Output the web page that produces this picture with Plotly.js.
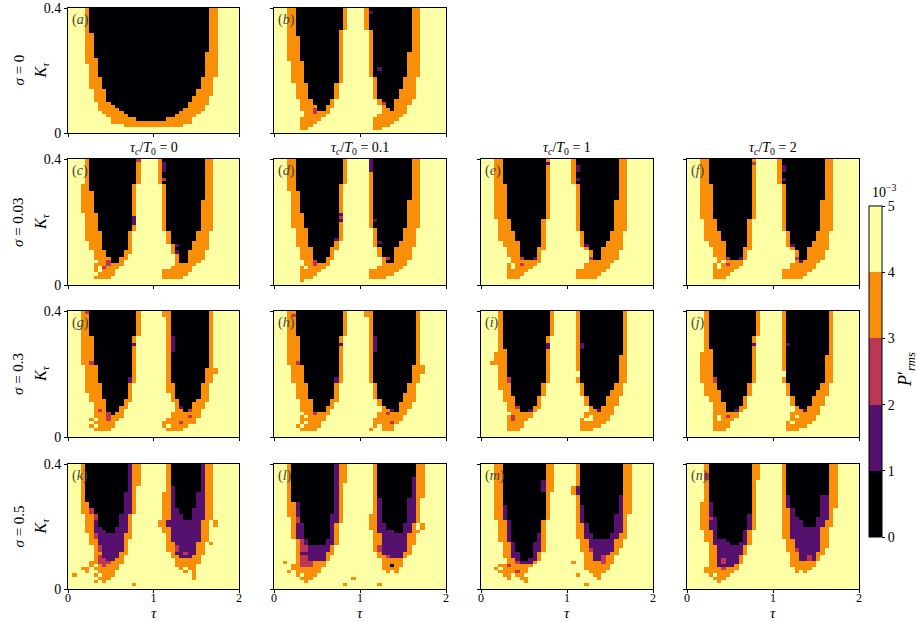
<!DOCTYPE html>
<html>
<head>
<meta charset="utf-8">
<script src="https://cdn.plot.ly/plotly-3.0.1.min.js"></script>
<style>html,body{margin:0;padding:0;background:#fff;}#chart{width:917px;height:622px;}</style>
</head>
<body>
<div id="chart"></div>
<script>
// ---------------- DATA ----------------
// Each panel: 40 rows (row 0 = K_tau 0.4 top, row 39 = 0) x 40 columns (tau 0..2).
// Entry "r0-r1:spec": for rows r0..r1, each token "cL" sets level L from column c onward.
// Levels (P'_rms bins, units 1e-3): K=[0,1) P=[1,2) R=[2,3) O=[3,4) Y=[4,5]
const sigmaLabels = ['0', '0.03', '0.3', '0.5'];
const tauCLabels = ['0', '0.1', '1', '2'];
const panelLetters = ['a','b','c','d','e','f','g','h','i','j','k','l','m','n'];
const colorbarTicks = [0, 1, 2, 3, 4, 5];
const levelColors = ['#000004', '#56106e', '#bb3754', '#f98e09', '#fcffa4'];

const panelA = ["0-7:4O 5K 33O 35Y","8-13:4O 6K 33O 35Y","14-15:4O 6K 32O 35Y","16-17:4O 7K 32O 35Y","18-21:5O 7K 32O 35Y","22-25:5O 8K 31O 34Y","26-27:6O 9K 30O 34Y","28-29:6O 9K 29O 33Y","30:7O 10K 28O 33Y","31:7O 11K 28O 32Y","32:7O 12K 27O 32Y","33:8O 13K 26O 31Y","34:9O 14K 25O 30Y","35:10O 16K 23O 29Y","36:10O 29Y","37:13O 27Y"];

const panelB = ["0-6:3O 5K 16O 17Y","7-8:3O 5K 15O 16Y","9-16:3O 6K 15O 16Y","17-23:4O 7K 15O 16Y","24-28:5O 8K 14O 15Y","29-30:6O 9K 13O 14Y","31:6O 10K 12O 14Y","32:6O 9R 10K 12O 13Y","33:7O 9R 10O 13Y","34:7O 12Y","35:6O 11Y","36:6O 10Y","37:6O 9Y","38:6O 8Y",
"0:21O 22K 32O 34Y","1:21O 22P 23K 32O 34Y","2-6:21O 22K 32O 34Y","7-13:22O 23K 32O 34Y","14-18:22O 23K 31O 34Y","19:22O 23K 24P 25K 31O 34Y","20-21:22O 23K 31O 34Y","22-25:23O 24K 30O 33Y","26-28:23O 24K 29O 33Y","29:24O 25K 28O 32Y","30:24O 25R 26K 28O 32Y","31:25O 26K 28O 31Y","32:25O 27K 28O 31Y","33:25O 31Y","34:24O 30Y","35:23O 29Y","36:23O 28Y","37:23O 27Y","38:23O 25Y"];

const panelC = ["0:4O 5K 16R 17Y","1-7:4O 5K 16O 17Y","8-9:3O 5K 15O 16Y","10-16:3O 6K 15O 16Y","17:4O 7K 15O 16Y","18-20:4O 7K 15P 16Y","21-22:4O 7K 15O 16Y","23-25:4O 8K 14O 15Y","26-28:5O 8K 14O 15Y","29:6O 9K 13O 15Y","30:6O 9K 13O 14Y","31:6O 10K 12O 14Y","32:7O 9R 10K 12O 13Y","33:6O 9R 10O 13Y","34:6O 7Y 8R 9O 12Y","35:6O 7Y 8O 11Y","36:7O 11Y","37:6O 10Y",
"0:21O 22K 32O 34Y","1-3:21O 22P 23K 32O 34Y","4-5:21O 22K 32O 34Y","6:21O 22R 23K 32O 34Y","7:21O 22K 32O 34Y","8-12:22O 23K 32O 34Y","13-22:22O 23K 31O 34Y","23-25:23O 24K 30O 33Y","26:23O 24K 29O 33Y","27:24O 25P 26K 29O 33Y","28:24O 25K 29O 33Y","29:24O 25P 26K 28O 32Y","30-31:25O 26K 28O 32Y","32:25O 26K 28O 31Y","33:25O 30Y","34:24O 29Y","35:22O 29Y","36:22O 28Y","37:22O 27Y"];

const panelD = ["0-7:3O 5K 16O 17Y","8-9:3O 5K 15O 16Y","10-16:4O 6K 15O 16Y","17:4O 7K 15P 16Y","18:4O 7K 15R 16Y","19:4O 7K 15P 16Y","20-21:4O 7K 15O 16Y","22-24:5O 8K 15O 16Y","25:5O 8K 14P 15O 16Y","26-27:5O 8K 14O 15Y","28:6O 9K 13O 15Y","29-30:6O 9K 13O 14Y","31:6O 9K 12O 14Y","32:7O 9R 10K 12O 13Y","33:7O 9R 10O 13Y","34:6O 7Y 8O 12Y","35:6O 11Y","36:6O 10Y","37:6O 9Y","38:6O 7Y",
"0-3:22P 23K 32O 34Y","4-12:22O 23K 32O 34Y","13-18:22O 23K 31O 34Y","19:22O 23P 24K 31O 34Y","20-21:22O 23K 31O 34Y","22-25:23O 24K 30O 33Y","26:23O 24P 25K 29O 33Y","27:23O 24K 29O 33Y","28-30:24O 25K 28O 32Y","31:25O 26R 27K 28O 32Y","32:25O 26K 28O 31Y","33:25O 31Y","34:24O 30Y","35:22O 29Y","36:22O 28Y","37:22O 26Y"];

const panelE = ["0:3O 5K 15O 16Y","1:3O 5K 15P 16Y","2-7:3O 5K 15O 16Y","8-18:3O 6K 15O 16Y","19-22:4O 7K 14O 15Y","23-25:4O 8K 14O 15Y","26-27:5O 9K 14O 15Y","28:6O 9K 13O 15Y","29-30:6O 9K 13O 14Y","31:7O 9R 10K 12P 13O 14Y","32:7O 14Y","33:6O 7Y 8O 9R 10O 13Y","34:6O 7Y 8O 12Y","35:6O 11Y","36:6O 10Y","37:6O 9Y",
"0-1:21O 22K 32O 34Y","2-3:21O 22P 23K 32O 34Y","4-5:21O 22K 32O 34Y","6:21O 22P 23K 32O 34Y","7:21O 22K 32O 34Y","8-12:22O 23K 32O 34Y","13-22:22O 23K 31O 34Y","23-25:23O 24K 30O 33Y","26:23O 24K 29O 33Y","27:23O 24P 25K 29O 33Y","28:24O 25K 28O 33Y","29-30:25O 26K 28O 32Y","31:25R 26K 28O 32Y","32:25O 31Y","33-34:24O 30Y","35:22O 29Y","36:22O 28Y","37:22O 27Y"];

const panelF = ["0:3O 5K 15O 16Y","1:3O 5K 15R 16Y","2-7:3O 5K 15O 16Y","8-18:3O 6K 15O 16Y","19-22:4O 7K 14O 15Y","23-25:4O 8K 14O 15Y","26-27:5O 9K 14O 15Y","28:6O 9K 13O 15Y","29-30:6O 9K 13O 14Y","31:7O 9R 10K 12P 13O 14Y","32:7O 8Y 9O 13Y","33:6O 7Y 8O 9R 10O 13Y","34:6O 7Y 8O 12Y","35:6O 11Y","36:6O 10Y","37:6O 9Y",
"0-1:21O 22K 32O 34Y","2-3:21O 22P 23K 32O 34Y","4-5:21O 22K 32O 34Y","6:21O 22P 23K 32O 34Y","7:21O 22K 32O 34Y","8-12:22O 23K 32O 34Y","13-22:22O 23K 31O 34Y","23-25:23O 24K 30O 33Y","26:23O 24K 29O 33Y","27:23O 24P 25K 29O 33Y","28:24O 25K 28O 33Y","29-30:25O 26K 28O 32Y","31:25R 26K 28O 32Y","32:25O 26P 27O 31Y","33-34:24O 30Y","35:22O 29Y","36:22O 28Y","37:22O 27Y"];

const panelG = ["0:3O 4R 5K 16O 17Y","1-7:3O 5K 16O 17Y","8-9:3O 6K 15O 16Y","10:3O 6K 15P 16Y","11-15:3O 6K 15O 16Y","16:3O 5R 6K 15O 16Y","17-20:4O 7K 15O 16Y","21-22:4O 7K 14P 15O 16Y","23-25:4O 8K 14O 15Y","26-27:5O 8K 14O 15Y","28:5O 9K 13O 15Y","29:6O 9K 13O 14Y","30:6O 9K 12O 14Y","31:6O 7R 8O 9K 12O 13Y","32:6O 9R 10K 11O 13Y","33:6O 9R 10O 13Y","34:5O 6Y 7O 9R 10O 12Y","35:6O 11Y","36:5O 6Y 7O 11Y","37:6O 10Y",
"0-1:22O 24K 33O 34Y","2-7:23O 24K 33O 34Y","8-12:23O 24P 25K 33O 34Y","13-17:23O 24K 33O 34Y","18-19:23O 24K 32O 35Y","20-22:23O 24K 32O 34Y","23-25:23O 25K 31O 33Y","26-27:24O 25K 31O 33Y","28:24O 26K 30O 33Y","29:25O 26K 29O 32Y","30:25O 26P 27K 29O 32Y","31:25O 27K 28R 29O 31Y","32:24O 31Y","33:24O 28R 29O 31Y","34:23O 30Y","35:22O 26R 27O 30Y","36:22O 23Y 24O 28Y","37:23O 27Y"];

const panelH = ["0:3O 5K 16O 17Y","1:3O 4R 5K 16O 17Y","2-7:3O 5K 16O 17Y","8-9:3O 6K 15O 16Y","10:3O 6K 15P 16Y","11-15:3O 6K 15O 16Y","16:3O 5R 6K 15O 16Y","17-20:4O 7K 15O 16Y","21-22:4O 7K 14P 15O 16Y","23-27:5O 8K 14O 15Y","28:6O 9K 13O 15Y","29:6O 9K 13O 14Y","30:6O 9K 12O 14Y","31:6O 9K 12O 13Y","32:7O 9R 10O 13Y","33:6O 7Y 8O 12Y","34:6O 12Y","35:6O 7Y 8O 11Y","36:5O 6Y 7O 11Y","37:6O 10Y",
"0-1:21O 23K 33O 34Y","2-7:22O 23K 33O 34Y","8-12:22O 23P 24K 33O 34Y","13-16:22O 23K 33O 34Y","17-19:22O 23K 32O 35Y","20-22:22O 23K 32O 34Y","23-25:23O 24K 31O 33Y","26-27:23O 24K 30O 33Y","28:24O 25K 30O 33Y","29:24O 25K 29O 32Y","30:25O 26K 29O 32Y","31:25O 27P 28K 29O 31Y","32:24O 26R 27O 31Y","33:24O 30Y","34:23O 30Y","35:23O 27R 28O 29Y","36:23O 24Y 25O 28Y","37:22O 23Y 25O 28Y"];

const panelI = ["0-7:4O 5K 16O 17Y","8-9:4O 5K 15O 16Y","10-11:4O 5K 15P 16Y","12:4O 6K 15O 16Y","13-15:3O 6K 15O 16Y","16:2O 6K 15O 16Y","17-20:4O 6K 15O 16Y","21-22:4O 6R 7K 15O 16Y","23-24:4O 7K 14O 15Y","25-26:5O 7K 14O 15Y","27-28:5O 8K 13O 14Y","29:6O 8K 13O 14Y","30:6O 8R 9K 12O 14Y","31:6O 9K 11P 12O 13Y","32:7O 12Y","33:6O 7R 8O 12Y","34:6O 7R 8O 11Y","35-36:6O 10Y","37:6O 9Y",
"0-9:22O 23K 33O 34Y","10-11:22O 23P 24K 33O 34Y","12-13:22O 23K 33O 34Y","14-18:22O 23K 32O 34Y","19-20:22Y 23K 32O 34Y","21-22:22O 23K 32O 34Y","23-24:23O 24K 31O 33Y","25-26:23O 24K 30O 33Y","27-29:24O 25K 29O 32Y","30:25O 26K 28O 31Y","31:25O 27P 28O 31Y","32:24O 31Y","33:24O 25Y 26O 30Y","34:23O 24Y 26O 30Y","35:23O 29Y","36:23O 28Y","37:23O 26Y"];

const panelJ = ["0-7:4O 5K 16O 17Y","8-9:4O 5K 15O 16Y","10:4O 5K 15P 16Y","11:4O 5K 15O 16Y","12:4O 6K 15O 16Y","13-20:3O 6K 15O 16Y","21-22:3O 6R 7K 15O 16Y","23-24:4O 7K 14O 15Y","25-26:4O 8K 14O 15Y","27-28:5O 8K 13O 14Y","29:6O 9K 13O 14Y","30:6O 9K 12O 14Y","31:6O 9K 11P 12O 13Y","32:6O 12Y","33:6O 7Y 8O 9R 10O 12Y","34:6O 7Y 8O 11Y","35-36:6O 10Y","37:6O 9Y",
"0-9:22O 23K 33O 34Y","10:22O 23P 24K 33O 34Y","11-13:22O 23K 33O 34Y","14-18:22O 23K 32O 34Y","19-20:22Y 23K 32O 34Y","21-22:22O 23K 32O 34Y","23-24:23O 24K 31O 33Y","25-26:23O 24K 30O 33Y","27-29:24O 25K 29O 32Y","30:25O 26K 28O 31Y","31:25O 27P 28O 31Y","32:24O 31Y","33:24O 25Y 26O 30Y","34:24O 30Y","35:23O 24Y 25O 29Y","36:23O 28Y","37:23O 26Y"];

const panelK = ["0-6:3O 4K 14P 15O 17Y","7-8:3O 4K 14P 15O 16Y","9-11:3O 4K 13P 15O 16Y","12-13:3O 5K 13P 15O 16Y","14-15:3O 5R 6K 13P 15O 16Y","16-17:4O 6R 7K 12P 14O 15Y","18-19:4O 6P 7K 12P 14O 15Y","20:4O 6P 8K 11P 14O 15Y","21:4O 6P 9K 11P 14O 15Y","22-23:5O 6R 7P 13O 15Y","24-25:5O 7P 13O 14Y","26-27:6O 7R 8P 13O 14Y","28:6O 8P 12O 14Y","29:6O 7R 8P 12O 13Y","30:6O 7R 9P 11O 13Y","31:5O 7R 10O 13Y","32:5O 6Y 7O 8R 9O 12Y","33:3O 5Y 6O 12Y","34:4O 5Y 7O 11Y","35:1O 2Y 6O 7Y 8O 11Y","36:7O 10Y","37:6O 7Y 8O 9Y","38:15O 16Y",
"0-6:23O 24K 31P 32O 34Y","7-8:23O 24P 25K 31P 32O 34Y","9-13:22O 24P 25K 30P 32O 34Y","14-15:22O 24P 26K 29P 32O 34Y","16-17:22O 24P 27K 29P 32O 34Y","18-19:21O 23P 31O 33Y 34O 35Y","20-21:22O 24P 31O 33Y","22-24:23O 24P 31O 33Y","25:23O 25P 30O 32Y 33O 34Y","26-27:23O 25R 26P 30O 32Y","28:24O 25P 27R 28P 30O 32Y","29:24O 26P 29O 31Y","30-31:25O 31Y","32:25O 30Y","33:26O 27Y 28O 30Y","34:27O 28Y 29O 30Y","35-36:29O 30Y"];

const panelL = ["0-5:3O 4K 14P 15O 17Y","6-11:3O 4K 14P 15O 16Y","12-15:3O 5P 6K 14P 15O 16Y","16:3O 5P 6K 13P 15O 16Y","17-18:4O 5R 6K 13P 15O 16Y","19-23:4O 5P 7K 13P 14O 15Y","24-25:5O 6R 7P 8K 12P 14O 15Y","26-27:5O 6R 8P 13O 14Y","28:5O 6P 12O 14Y","29-30:5O 6R 8P 12O 13Y","31:2O 3Y 5O 6R 9O 12Y","32:4O 6R 9O 12Y","33:4O 11Y","34:3O 4Y 5O 11Y","35:5O 6Y 7O 10Y","36:6O 9Y 18O 19Y","37:7O 8Y","38:16O 17Y",
"0-3:23O 24K 33O 35Y","4-10:23O 24K 32P 33O 35Y","11-15:23O 24P 25K 31P 33O 34Y","16-18:22O 24P 25K 31P 33O 34Y","19-20:22O 24P 26K 30P 32O 33Y 34O 35Y","21:23O 24P 28K 30P 32O 34Y","22-25:23O 25P 31O 33Y","26-27:23O 24R 25P 31O 32Y","28:24O 25P 30O 32Y","29:24O 26R 27P 30O 31Y","30-31:25O 30Y","32:25O 27K 28O 30Y","33:25O 29Y","34:26O 27Y 28O 29Y","38:24O 25Y"];

const panelM = ["0-4:3O 5K 15O 17Y","5-8:3O 5K 14P 15O 17Y","9-12:3O 5K 15O 16Y","13-17:3O 5P 6K 15O 16Y","18-21:4O 6P 7K 14O 15Y","22-24:4O 6P 7K 13P 14O 15Y","25-27:5O 7P 8K 12P 14O 15Y","28-29:5O 7P 9K 12P 13O 14Y","30:6O 8P 9K 11P 13O 14Y","31:6O 8R 9P 12O 13Y","32:4O 6R 7O 12Y","33:3O 4Y 5O 11Y","34:4O 8R 9O 11Y","35:5O 7Y 8O 10Y","36:6O 7Y 9O 11Y","37:10O 11Y",
"0-6:22O 23K 33O 35Y","7-9:21O 22P 23K 33O 35Y","10-12:22O 23K 32P 33O 35Y","13-15:22O 23P 24K 32P 33O 35Y","16-18:22O 23P 24K 31P 33O 34Y","19-21:22O 24P 25K 31P 33O 34Y","22-23:22O 24P 26K 30P 32O 34Y","24-26:23O 25P 31O 33Y","27:23O 25R 26P 31O 32Y","28:24O 26P 30O 32Y","29-30:24O 26P 28R 29O 31Y","31:21O 22Y 24O 28R 29O 31Y","32-33:24O 30Y","34:25O 29Y","35:22O 23Y 26O 28Y","36:27O 28Y","38:24O 25Y"];

const panelN = ["0-2:4O 5K 15O 17Y","3-4:4R 5K 15O 17Y","5-11:4O 5K 15O 16Y","12-15:3O 5P 6K 15O 16Y","16:3O 5P 6K 14P 15O 16Y","17:3O 5R 6P 7K 14P 15O 16Y","18-20:3O 5P 7K 14P 15O 16Y","21-23:4O 6P 7K 13P 14O 15Y","24:4O 6P 9K 13P 14O 15Y","25:5O 6P 10K 12P 14O 15Y","26-28:5O 7P 13O 14Y","29:5O 7P 12O 13Y","30-31:5O 7P 8R 9P 12O 13Y","32:5O 7P 11O 12Y","33:4O 8R 9O 12Y","34:4O 11Y","35:5O 6Y 7O 10Y","36:6O 9Y","37:7O 8Y",
"0-9:22O 23K 33O 35Y","10-13:22O 23P 24K 31P 33O 35Y","14-16:22O 24P 25K 31P 33O 34Y","17:22O 24P 26K 30P 33O 34Y","18-19:22O 24P 27K 30P 32O 34Y","20-23:22O 24P 31O 33Y","24-26:23O 25P 31O 33Y","27:23O 25R 26P 31O 32Y","28:24O 26P 30O 32Y","29-30:24O 26P 28R 29P 30O 31Y","31-32:24O 30Y","33:25O 29Y","34:25O 26Y 27O 28Y"];

const panels = [panelA, panelB, panelC, panelD, panelE, panelF, panelG, panelH, panelI, panelJ, panelK, panelL, panelM, panelN];

// ---------------- BUILD ----------------
const LV = {K:0, P:1, R:2, O:3, Y:4};
function buildGrid(entries){
  const g = [];
  for (let r = 0; r < 40; r++) g.push(new Array(40).fill(4));
  entries.forEach(e => {
    const idx = e.indexOf(':');
    const rng = e.slice(0, idx).split('-').map(Number);
    const r0 = rng[0], r1 = rng.length > 1 ? rng[1] : rng[0];
    const toks = e.slice(idx + 1).trim().split(/\s+/).map(t => [parseInt(t, 10), LV[t.slice(-1)]]);
    for (let r = r0; r <= r1; r++) {
      toks.forEach((t, i) => {
        const end = i + 1 < toks.length ? toks[i + 1][0] : 40;
        for (let c = t[0]; c < end; c++) g[r][c] = t[1];
      });
    }
  });
  return g.slice().reverse().map(row => row.map(v => v + 0.5));
}

const W = 917, H = 622;
const colPx = [[68, 239], [274, 446], [481, 653], [687, 859]];
const rowPx = [[8, 133], [159, 285], [311, 437], [464, 589]];
const pos = [[0,0],[0,1],[1,0],[1,1],[1,2],[1,3],[2,0],[2,1],[2,2],[2,3],[3,0],[3,1],[3,2],[3,3]];

const FONT = 'Liberation Serif, DejaVu Serif, serif';
const data = [];
const layout = {
  width: W, height: H,
  margin: {l: 0, r: 0, t: 0, b: 0},
  paper_bgcolor: '#fff', plot_bgcolor: '#fff',
  showlegend: false,
  font: {family: FONT, size: 13, color: '#000'},
  annotations: [],
  coloraxis: {
    cmin: 0, cmax: 5,
    colorscale: [[0, levelColors[0]], [0.2, levelColors[0]], [0.2, levelColors[1]], [0.4, levelColors[1]],
                 [0.4, levelColors[2]], [0.6, levelColors[2]], [0.6, levelColors[3]], [0.8, levelColors[3]],
                 [0.8, levelColors[4]], [1, levelColors[4]]],
    colorbar: {
      x: 869 / W, xanchor: 'left', xpad: 0, ypad: 0,
      y: 1 - 206 / H, yanchor: 'top', len: 331 / H, lenmode: 'fraction',
      thickness: 13, thicknessmode: 'pixels',
      outlinewidth: 1, outlinecolor: '#000',
      tickvals: colorbarTicks, ticktext: colorbarTicks.map(String),
      ticks: 'outside', ticklen: 3, tickcolor: '#000',
      tickfont: {family: FONT, size: 14, color: '#000'}
    }
  }
};

panels.forEach((entries, i) => {
  const n = i + 1;
  const [ri, ci] = pos[i];
  const xd = [colPx[ci][0] / W, colPx[ci][1] / W];
  const yd = [1 - rowPx[ri][1] / H, 1 - rowPx[ri][0] / H];
  data.push({
    type: 'heatmap', z: buildGrid(entries),
    x0: 0.025, dx: 0.05, y0: 0.005, dy: 0.01,
    coloraxis: 'coloraxis', xaxis: 'x' + n, yaxis: 'y' + n,
    hoverinfo: 'skip', zsmooth: false
  });
  const sfx = n === 1 ? '' : String(n);
  layout['xaxis' + sfx] = {
    domain: xd, anchor: 'y' + n, range: [0, 2], tickvals: [0, 1, 2], ticktext: ['0', '1', '2'],
    showticklabels: ri === 3, ticks: 'outside', ticklen: 3, tickcolor: '#000',
    ticklabelstandoff: -5,
    showline: true, mirror: true, linecolor: '#000', linewidth: 1,
    showgrid: false, zeroline: false, fixedrange: true,
    tickfont: {family: FONT, size: 12, color: '#000'}
  };
  layout['yaxis' + sfx] = {
    domain: yd, anchor: 'x' + n, range: [0, 0.4], tickvals: [0, 0.4], ticktext: ['0', '0.4'],
    showticklabels: ci === 0, ticks: 'outside', ticklen: 3, tickcolor: '#000',
    showline: true, mirror: true, linecolor: '#000', linewidth: 1,
    showgrid: false, zeroline: false, fixedrange: true,
    tickfont: {family: FONT, size: 14, color: '#000'}
  };
  layout.annotations.push({
    xref: 'paper', yref: 'paper', x: (colPx[ci][0] + 2) / W, y: 1 - (rowPx[ri][0] + 2) / H,
    xanchor: 'left', yanchor: 'top', showarrow: false,
    text: '(<i>' + panelLetters[i] + '</i>)', font: {family: FONT, size: 14, color: '#444'}
  });
});

tauCLabels.forEach((t, ci) => {
  layout.annotations.push({
    xref: 'paper', yref: 'paper', x: (colPx[ci][0] + colPx[ci][1]) / 2 / W, y: 1 - 148 / H,
    xanchor: 'center', yanchor: 'middle', showarrow: false,
    text: '<i>τ<sub>c</sub></i>/<i>T</i><sub>0</sub> = ' + t, font: {family: FONT, size: 14}
  });
});
sigmaLabels.forEach((s, ri) => {
  const yc = 1 - (rowPx[ri][0] + rowPx[ri][1]) / 2 / H;
  layout.annotations.push({
    xref: 'paper', yref: 'paper', x: 18 / W, y: yc, xanchor: 'center', yanchor: 'middle',
    showarrow: false, textangle: -90, text: '<i>σ</i> = ' + s, font: {family: FONT, size: 15}
  });
  layout.annotations.push({
    xref: 'paper', yref: 'paper', x: 41 / W, y: yc, xanchor: 'center', yanchor: 'middle',
    showarrow: false, textangle: -90, text: '<i>K<sub>τ</sub></i>', font: {family: FONT, size: 16}
  });
});
colPx.forEach(c => {
  layout.annotations.push({
    xref: 'paper', yref: 'paper', x: (c[0] + c[1]) / 2 / W, y: 0, yshift: 0, borderpad: 0,
    xanchor: 'center', yanchor: 'bottom', showarrow: false,
    text: '<i>τ</i>', font: {family: FONT, size: 15}
  });
});
layout.annotations.push({
  xref: 'paper', yref: 'paper', x: 884 / W, y: 1 - 191 / H, xanchor: 'center', yanchor: 'middle',
  showarrow: false, text: '10<sup>−3</sup>', font: {family: FONT, size: 14}
});
layout.annotations.push({
  xref: 'paper', yref: 'paper', x: 906 / W, y: 1 - 370 / H, xanchor: 'center', yanchor: 'middle',
  showarrow: false, textangle: -90, text: '<i>P</i>′<sub><i>rms</i></sub>', font: {family: FONT, size: 18}
});

Plotly.newPlot('chart', data, layout, {displayModeBar: false, staticPlot: true});
</script>
</body>
</html>
